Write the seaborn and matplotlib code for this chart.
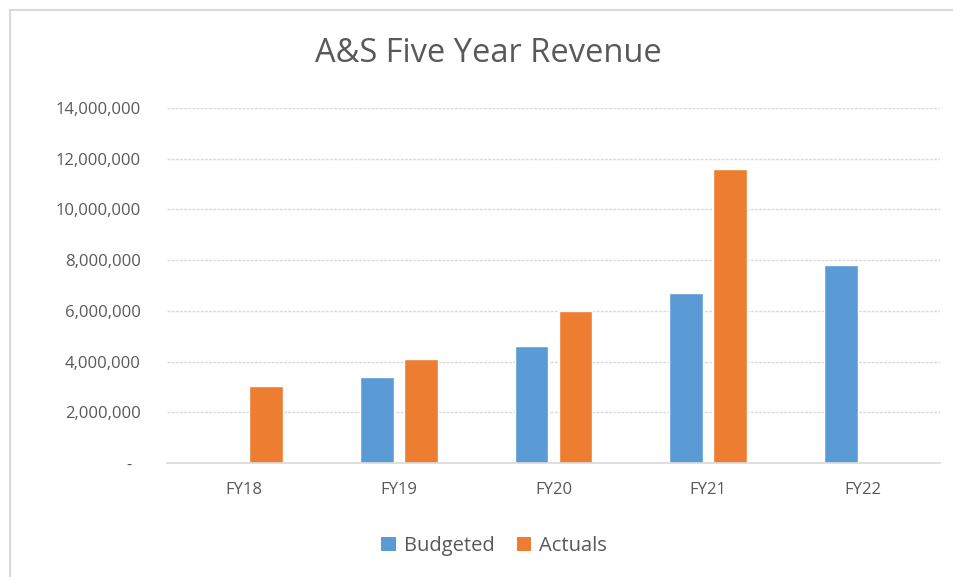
"""
A&S five year revenue: budgeted vs actuals, grouped bars.
"""

import matplotlib
matplotlib.use("Agg")
from matplotlib import pyplot as plt
from matplotlib.patches import Patch
from matplotlib.ticker import FuncFormatter, MultipleLocator
import seaborn as sns
import pandas as pd

# Values.
years = ["FY18", "FY19", "FY20", "FY21", "FY22"]
budgeted = [None, 3_380_000, 4_630_000, 6_700_000, 7_810_000]
actuals = [3_050_000, 4_090_000, 5_990_000, 11_580_000, None]
series_names = ["Budgeted", "Actuals"]

BLUE = "#5B9BD5"
ORANGE = "#ED7D31"
TEXT = "#595959"
GRID = "#D9D9D9"

# Long form table for seaborn.
rows = []
for name, values in zip(series_names, [budgeted, actuals]):
    for year, value in zip(years, values):
        rows.append({"Year": year, "Series": name, "Revenue": value})
df = pd.DataFrame(rows)

sns.set_theme(style="white")
plt.rcParams["font.family"] = ["Open Sans", "DejaVu Sans"]

fig = plt.figure(figsize=(9.54, 5.77), dpi=100)
ax = fig.add_axes([167 / 954, 1 - 463 / 577, 773 / 954, 355 / 577])

sns.barplot(
    data=df,
    x="Year",
    y="Revenue",
    hue="Series",
    hue_order=series_names,
    order=years,
    palette=[BLUE, ORANGE],
    width=0.57,
    gap=0.23,
    saturation=1,
    errorbar=None,
    legend=False,
    ax=ax,
)

ax.set_ylim(0, 14_000_000)
ax.yaxis.set_major_locator(MultipleLocator(2_000_000))
# Excel accounting style: zero shows as a dash.
ax.yaxis.set_major_formatter(
    FuncFormatter(lambda v, _: "-  " if v == 0 else f"{int(v):,}")
)
ax.grid(axis="y", color=GRID, linewidth=1, linestyle=(0, (2, 1)))
ax.set_axisbelow(True)
for side in ["top", "right", "left"]:
    ax.spines[side].set_visible(False)
ax.spines["bottom"].set_color(GRID)
ax.spines["bottom"].set_linewidth(1.2)

ax.set_xlabel("")
ax.set_ylabel("")
ax.tick_params(axis="both", length=0, labelsize=12, colors=TEXT, pad=14)
ax.tick_params(axis="y", pad=19)

fig.text(488 / 954, 1 - 53 / 577, "A&S Five Year Revenue",
         ha="center", va="center", fontsize=23.5, color=TEXT)

handles = [Patch(facecolor=c, edgecolor="none") for c in [BLUE, ORANGE]]
fig.legend(
    handles, series_names,
    loc="center", bbox_to_anchor=(494 / 954, 1 - 546 / 577),
    ncol=2, frameon=False, fontsize=14.5, labelcolor=TEXT,
    handlelength=0.7, handleheight=0.7, handletextpad=0.4, columnspacing=1.1,
)

# Chart frame: only top and left edges fall inside the picture.
fig.add_artist(plt.Line2D([10 / 954, 10 / 954], [0, 1 - 10 / 577],
                          transform=fig.transFigure, color=GRID, linewidth=1.5))
fig.add_artist(plt.Line2D([10 / 954, 1], [1 - 10 / 577, 1 - 10 / 577],
                          transform=fig.transFigure, color=GRID, linewidth=1.5))

fig.savefig("out.png", dpi=100)
